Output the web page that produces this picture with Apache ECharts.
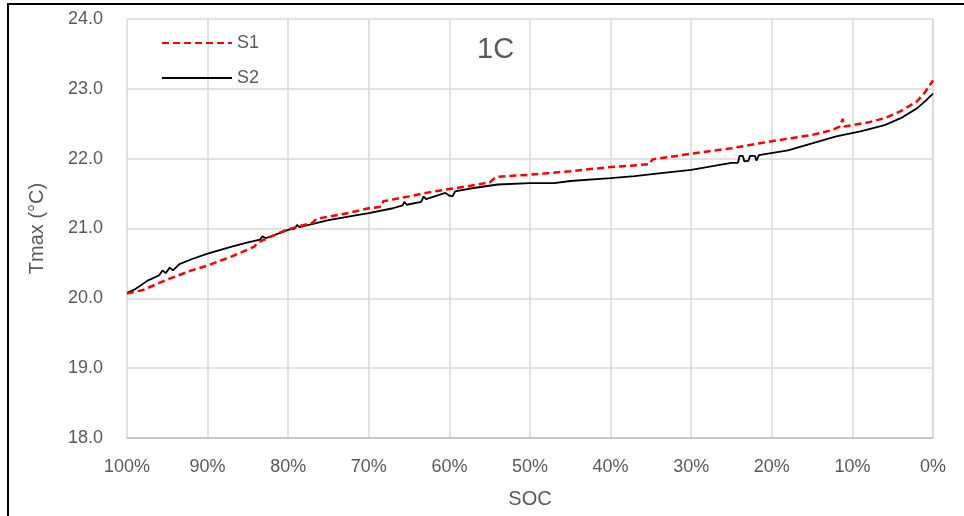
<!DOCTYPE html>
<html>
<head>
<meta charset="utf-8">
<script src="https://cdn.jsdelivr.net/npm/echarts@6/dist/echarts.min.js"></script>
<style>
  html, body { margin: 0; padding: 0; background: #fff; }
  #chart { width: 964px; height: 516px; }
</style>
</head>
<body>
<div id="chart"></div>
<script>
// SOC (%) and Tmax (°C)
const socS1 = [100, 98, 95, 92, 90, 87, 84.2, 83.8, 80, 77, 76.5, 73, 70, 68.5, 68.2, 65, 62, 58, 55, 54.2, 50, 45, 40, 35.2, 34.8, 30, 25, 20, 15, 12.5, 11.6, 11.2, 11, 8, 6, 4, 2, 1, 0]
const tS1 = [20.07, 20.12, 20.27, 20.40, 20.47, 20.60, 20.74, 20.80, 20.99, 21.08, 21.14, 21.21, 21.29, 21.31, 21.39, 21.46, 21.53, 21.60, 21.66, 21.74, 21.77, 21.82, 21.88, 21.92, 21.99, 22.07, 22.15, 22.25, 22.34, 22.41, 22.46, 22.57, 22.46, 22.52, 22.58, 22.68, 22.82, 22.95, 23.12]

const socS2 = [100, 99, 97.5, 96, 95.6, 95.2, 94.7, 94.3, 93.5, 92, 90, 87, 85, 83.5, 83.2, 82.8, 80, 79.2, 78.9, 78.6, 75, 72, 70, 67, 65.8, 65.6, 65.3, 63.5, 63.2, 62.9, 60.5, 60, 59.6, 59.3, 57, 54, 50, 47, 45, 40, 37, 34, 30, 27, 25, 24.2, 24, 23.6, 23.4, 22.9, 22.7, 22.1, 21.9, 21.6, 18, 15, 12, 9, 6, 4, 2, 1, 0]
const tS2 = [20.08, 20.13, 20.25, 20.33, 20.40, 20.36, 20.44, 20.40, 20.49, 20.56, 20.64, 20.74, 20.80, 20.84, 20.89, 20.86, 20.98, 21.00, 21.05, 21.02, 21.12, 21.18, 21.22, 21.29, 21.33, 21.38, 21.34, 21.38, 21.46, 21.42, 21.51, 21.47, 21.46, 21.53, 21.58, 21.63, 21.65, 21.65, 21.68, 21.72, 21.75, 21.79, 21.84, 21.90, 21.94, 21.94, 22.04, 22.04, 21.96, 21.97, 22.04, 22.04, 21.97, 22.05, 22.12, 22.22, 22.32, 22.39, 22.48, 22.58, 22.72, 22.82, 22.93]

const seriesNames = ['S1', 'S2']
const chartTitle = '1C'
const xName = 'SOC'
const yName = 'Tmax (°C)'

const txt = '#595959'
const font = 'Liberation Sans, sans-serif'

const chart = echarts.init(document.getElementById('chart'))

const option = {
  animation: false,
  textStyle: { fontFamily: font },
  title: {
    text: chartTitle,
    left: 472,
    top: 30,
    textStyle: { color: txt, fontSize: 29, fontWeight: 'normal', fontFamily: font }
  },
  legend: {
    orient: 'vertical',
    left: 156,
    top: 29,
    itemWidth: 70,
    itemHeight: 14,
    itemGap: 17,
    itemStyle: { opacity: 0 },
    textStyle: { color: txt, fontSize: 18, fontFamily: font },
    data: seriesNames
  },
  grid: { left: 127, right: 31, top: 19, bottom: 78 },
  xAxis: {
    type: 'value',
    min: 0,
    max: 100,
    interval: 10,
    inverse: true,
    name: xName,
    nameLocation: 'middle',
    nameGap: 51,
    nameTextStyle: { color: txt, fontSize: 20, fontFamily: font },
    axisLine: { show: true, lineStyle: { color: '#bfbfbf', width: 1.5 } },
    axisTick: { show: false },
    axisLabel: { color: txt, fontSize: 18, margin: 20, formatter: '{value}%', fontFamily: font },
    splitLine: { show: true, lineStyle: { color: '#d9d9d9', width: 1.5 } }
  },
  yAxis: {
    type: 'value',
    min: 18,
    max: 24,
    interval: 1,
    name: yName,
    nameLocation: 'middle',
    nameGap: 80,
    nameTextStyle: { color: txt, fontSize: 20, fontFamily: font },
    axisLine: { show: true, lineStyle: { color: '#d9d9d9', width: 1.5 } },
    axisTick: { show: false },
    axisLabel: { color: txt, fontSize: 18, margin: 24, formatter: v => v.toFixed(1), fontFamily: font },
    splitLine: { show: true, lineStyle: { color: '#d9d9d9', width: 1.5 } }
  },
  graphic: [
    {
      type: 'rect',
      shape: { x: 8, y: 4, width: 1000, height: 600 },
      style: { fill: 'none', stroke: '#000', lineWidth: 2 },
      silent: true
    }
  ],
  series: [
    {
      name: seriesNames[0],
      type: 'line',
      showSymbol: false,
      symbol: 'none',
      data: socS1.map((s, i) => [s, tS1[i]]),
      lineStyle: { color: '#ff0000', width: 2.5, type: [7, 4] },
      itemStyle: { color: '#ff0000' },
      z: 3
    },
    {
      name: seriesNames[1],
      type: 'line',
      showSymbol: false,
      symbol: 'none',
      data: socS2.map((s, i) => [s, tS2[i]]),
      lineStyle: { color: '#000000', width: 1.8 },
      itemStyle: { color: '#000000' },
      z: 2
    }
  ]
}

chart.setOption(option)
</script>
</body>
</html>
